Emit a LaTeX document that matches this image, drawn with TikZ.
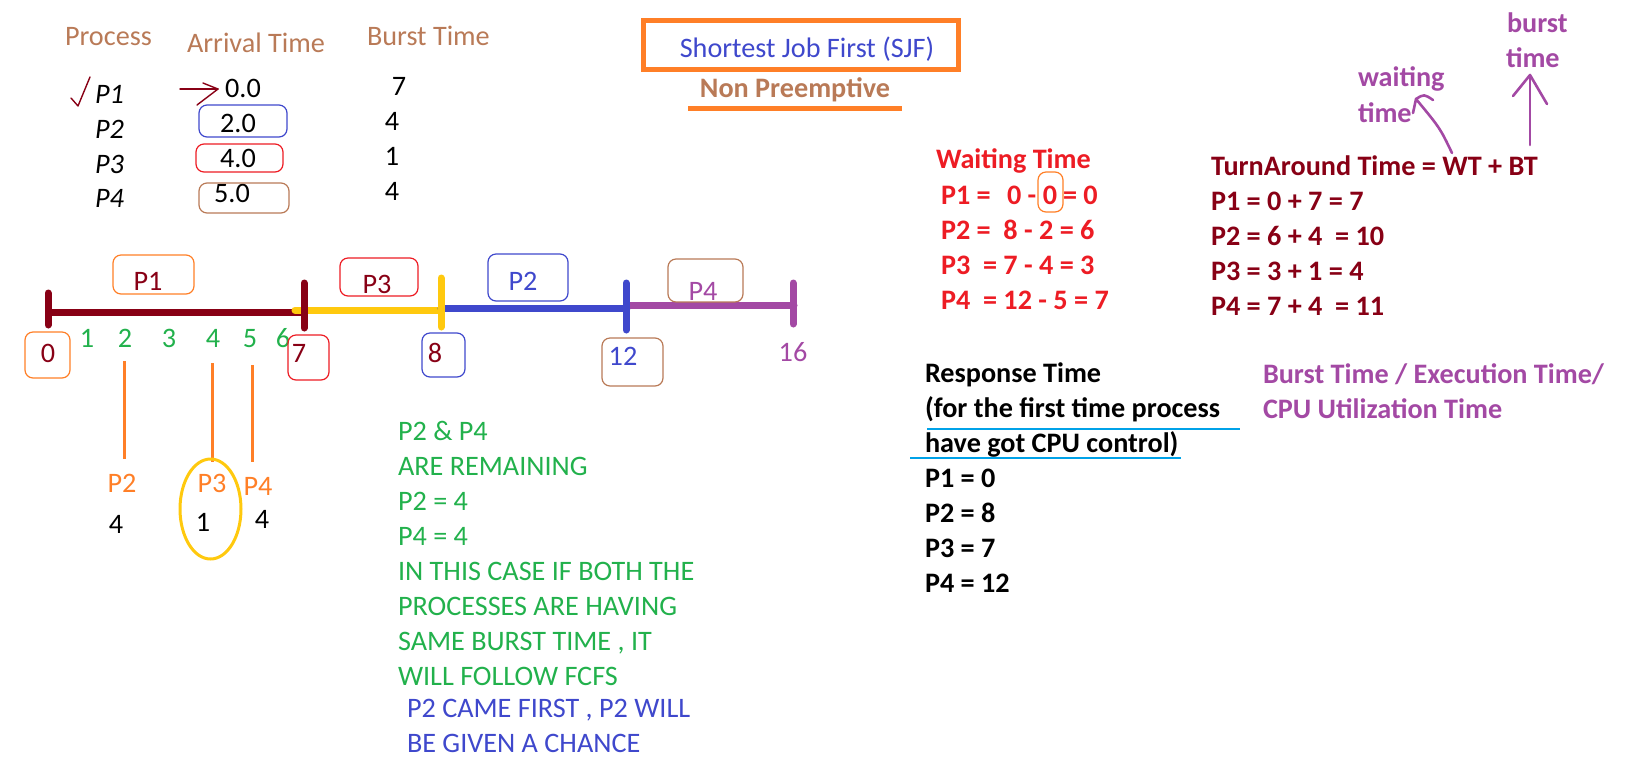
\documentclass[tikz,border=0pt]{standalone}
\usepackage{fontspec}
\setmainfont{Carlito}
\definecolor{dred}{HTML}{880015}
\definecolor{pred}{HTML}{ED1C24}
\definecolor{porange}{HTML}{FF7F27}
\definecolor{pgreen}{HTML}{22B14C}
\definecolor{pturq}{HTML}{00A2E8}
\definecolor{pindigo}{HTML}{3F48CC}
\definecolor{ppurple}{HTML}{A349A4}
\definecolor{pbrown}{HTML}{B97A57}
\definecolor{pgold}{HTML}{FFC90E}
\newcommand\myfs{\fontsize{14.1}{17}\selectfont}
\tikzset{
  tl/.style={inner sep=0, outer sep=0, font=\myfs, anchor=base west},
  tm/.style={inner sep=0, outer sep=0, font=\myfs, anchor=base},
  tlb/.style={tl, font=\myfs\bfseries},
  tmb/.style={tm, font=\myfs\bfseries},
  tli/.style={tl, font=\myfs\itshape},
  rbox/.style={rounded corners=4pt, line width=0.6pt},
  bar/.style={line width=3.5pt},
  tick/.style={line width=3.5pt, line cap=round},
  hand/.style={line width=0.7pt, line cap=round, line join=round},
}
\begin{document}
\begin{tikzpicture}[x=0.5pt,y=-0.5pt]
\useasboundingbox (0,0) rectangle (1634,762);

% ---------- table ----------
\node[tl, text=pbrown] (hProc) at (65,45) {Process};
\node[tl, text=pbrown] (hArr) at (187,52) {Arrival Time};
\node[tl, text=pbrown] (hBurst) at (367,45) {Burst Time};

\node[tli] (p1) at (95,103) {P1};
\node[tli] (p2) at (95,138) {P2};
\node[tli] (p3) at (95,173) {P3};
\node[tli] (p4) at (95,207) {P4};

\node[tm] (a1) at (243,97) {0.0};
\node[tm] (a2) at (238,132) {2.0};
\node[tm] (a3) at (238,167) {4.0};
\node[tm] (a4) at (232,202) {5.0};

\node[tm] (b1) at (399,95) {7};
\node[tm] (b2) at (392,130) {4};
\node[tm] (b3) at (392,165) {1};
\node[tm] (b4) at (392,200) {4};

\draw[pindigo, rbox] (199,105) rectangle (287,137);
\draw[pred, rbox] (196,144) rectangle (283,172);
\draw[pbrown, rbox] (199,183) rectangle (289,213);

% check mark and arrow
\draw[dred, hand] (71,98) -- (78,106) -- (90,77);
\draw[dred, hand] (180,89) -- (218,89);
\draw[dred, hand] (203,83) -- (218,89) -- (197,105);

% ---------- title ----------
\draw[porange, line width=2.5pt] (643,20.5) rectangle (958.5,69.5);
\node[tm, text=pindigo] (title) at (807,57) {Shortest Job First (SJF)};
\node[tmb, text=pbrown] (np) at (795,97) {Non Preemptive};
\draw[porange, line width=2.5pt] (688,108) -- (902,108);

% ---------- Gantt chart ----------
\draw[dred, bar] (45,312) -- (303,312);
\draw[pgold, bar, line cap=round] (295,310) -- (441,310);
\draw[pindigo, bar, line cap=round] (441,308) -- (627,308);
\draw[ppurple, bar, line cap=round] (627,305) -- (794,305);
\draw[dred, tick] (48,293) -- (48,325);
\draw[dred, tick] (304,283) -- (304,328);
\draw[pgold, tick] (441,278) -- (441,327);
\draw[pindigo, tick] (626,283) -- (626,330);
\draw[ppurple, tick] (793,283) -- (793,324);

\draw[porange, rbox] (113,255) rectangle (194,294);
\node[tm, text=dred] (gP1) at (148,290) {P1};
\draw[pred, rbox] (340,258) rectangle (418,296);
\node[tm, text=dred] (gP3) at (377,293) {P3};
\draw[pindigo, rbox] (488,254) rectangle (568,301);
\node[tm, text=pindigo] (gP2) at (523,290) {P2};
\draw[pbrown, rbox] (668,259) rectangle (743,302);
\node[tm, text=ppurple] (gP4) at (703,300) {P4};

\draw[porange, rbox] (25,332) rectangle (70,378);
\node[tm, text=dred] (t0) at (48,362) {0};
\node[tm, text=pgreen] (t1) at (87,347) {1};
\node[tm, text=pgreen] (t2) at (125,347) {2};
\node[tm, text=pgreen] (t3) at (169,347) {3};
\node[tm, text=pgreen] (t4) at (213,347) {4};
\node[tm, text=pgreen] (t5) at (250,347) {5};
\node[tm, text=pgreen] (t6) at (283,347) {6};
\draw[pred, rbox] (288,335) rectangle (329,380);
\node[tm, text=dred] (t7) at (299,362) {7};
\draw[pindigo, rbox] (422,333) rectangle (465,377);
\node[tm, text=dred] (t8) at (435,362) {8};
\draw[pbrown, rbox] (602,338) rectangle (663,386);
\node[tm, text=pindigo] (t12) at (623,365) {12};
\node[tm, text=ppurple] (t16) at (793,361) {16};

% arrivals below
\draw[porange, line width=1.5pt] (124,361) -- (124,459);
\draw[porange, line width=1.5pt] (212,363) -- (212,462);
\draw[porange, line width=1.5pt] (252,365) -- (252,462);
\node[tm, text=porange] (lP2) at (122,492) {P2};
\node[tm, text=porange] (lP3) at (212,492) {P3};
\node[tm, text=porange] (lP4) at (258,495) {P4};
\node[tm] (v2) at (116,533) {4};
\node[tm] (v3) at (203,531) {1};
\node[tm] (v4) at (262,528) {4};
\draw[pgold, line width=1.5pt] (210.5,509) ellipse [x radius=30.5, y radius=50];

% ---------- notes ----------
\node[tl, text=pgreen] (g1) at (398,440) {P2 \& P4};
\node[tl, text=pgreen] (g2) at (398,475) {ARE REMAINING};
\node[tl, text=pgreen] (g3) at (398,510) {P2 = 4};
\node[tl, text=pgreen] (g4) at (398,545) {P4 = 4};
\node[tl, text=pgreen] (g5) at (398,580) {IN THIS CASE IF BOTH THE};
\node[tl, text=pgreen] (g6) at (398,615) {PROCESSES ARE HAVING};
\node[tl, text=pgreen] (g7) at (398,650) {SAME BURST TIME , IT};
\node[tl, text=pgreen] (g8) at (398,685) {WILL FOLLOW FCFS};
\node[tl, text=pindigo] (g9) at (407,717) {P2 CAME FIRST , P2 WILL};
\node[tl, text=pindigo] (g10) at (407,752) {BE GIVEN A CHANCE};

% ---------- waiting time ----------
\node[tlb, text=pred] (wt) at (936,168) {Waiting Time};
\node[tlb, text=pred] (w1) at (941,204) {P1 =};
\node[tlb, text=pred] (w1m) at (1007,204) {0 -};
\node[tmb, text=pred] (w1z) at (1050,204) {0};
\draw[porange, rbox] (1038,172) rectangle (1063,212);
\node[tlb, text=pred] (w1r) at (1063,204) {= 0};
\node[tlb, text=pred] (w2) at (941,239) {P2 =\ \ 8 - 2 = 6};
\node[tlb, text=pred] (w3) at (941,274) {P3\ \ = 7 - 4 = 3};
\node[tlb, text=pred] (w4) at (941,309) {P4\ \ = 12 - 5 = 7};

% ---------- turnaround ----------
\node[tlb, text=dred] (ta) at (1211,175) {TurnAround Time = WT + BT};
\node[tlb, text=dred] (ta1) at (1211,210) {P1 = 0 + 7 = 7};
\node[tlb, text=dred] (ta2) at (1211,245) {P2 = 6 + 4\ \ = 10};
\node[tlb, text=dred] (ta3) at (1211,280) {P3 = 3 + 1 = 4};
\node[tlb, text=dred] (ta4) at (1211,315) {P4 = 7 + 4\ \ = 11};

\node[tlb, text=ppurple] (bw1) at (1507,32) {burst};
\node[tlb, text=ppurple] (bw2) at (1506,67) {time};
\node[tlb, text=ppurple] (ww1) at (1358,86) {waiting};
\node[tlb, text=ppurple] (ww2) at (1358,122) {time};
\draw[ppurple, line width=1.3pt, line cap=round, line join=round]
  (1452,153) .. controls (1440,128) .. (1416,99) -- (1413,113);
\draw[ppurple, line width=1.3pt, line cap=round, line join=round]
  (1416,99) .. controls (1424,94) .. (1433,100);
\draw[ppurple, line width=1.3pt, line cap=round, line join=round]
  (1530,145) -- (1530,75);
\draw[ppurple, line width=1.3pt, line cap=round, line join=round]
  (1513,96) -- (1530,75) -- (1547,104);

% ---------- response time ----------
\node[tlb] (rt) at (925,382) {Response Time};
\node[tlb] (rt1) at (925,417) {(for the first time process};
\node[tlb] (rt2) at (925,452) {have got CPU control)};
\draw[pturq, line width=0.7pt] (927,429) -- (1240,429);
\draw[pturq, line width=0.7pt] (910,458) -- (1181,458);
\node[tlb] (r1) at (925,487) {P1 = 0};
\node[tlb] (r2) at (925,522) {P2 = 8};
\node[tlb] (r3) at (925,557) {P3 = 7};
\node[tlb] (r4) at (925,592) {P4 = 12};

\node[tlb, text=ppurple] (be1) at (1263,383) {Burst Time / Execution Time/};
\node[tlb, text=ppurple] (be2) at (1263,418) {CPU Utilization Time};
\end{tikzpicture}
\end{document}
